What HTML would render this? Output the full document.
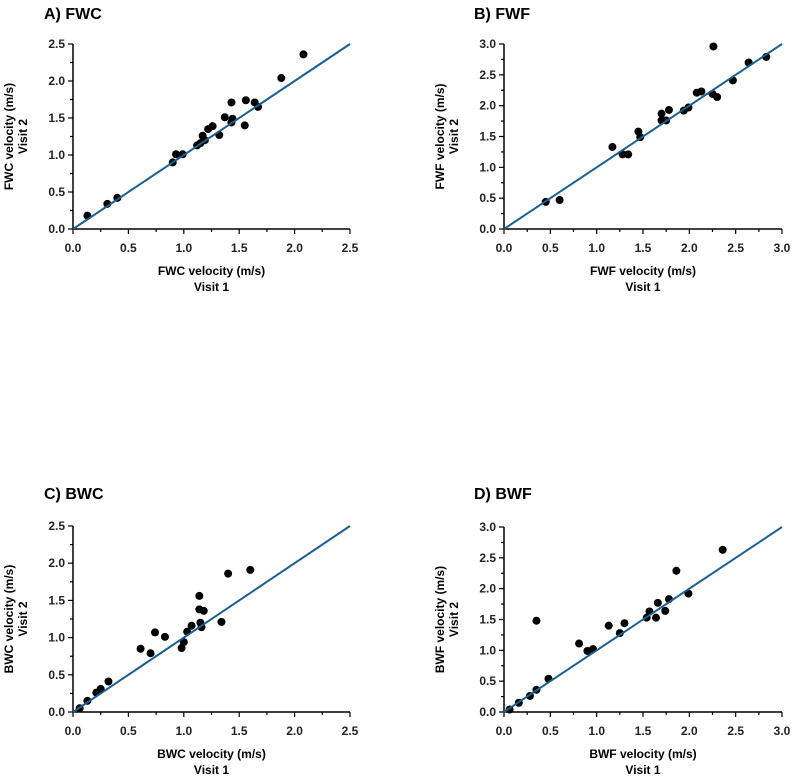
<!DOCTYPE html>
<html><head><meta charset="utf-8"><style>
html,body{margin:0;padding:0;background:#fff;}
svg{display:block;font-family:"Liberation Sans",sans-serif;}
.t{font-weight:bold;font-size:16px;}
.tick{font-size:12px;font-weight:bold;fill:#222;}
.lab{font-size:12px;font-weight:bold;}
</style></head><body>
<svg id="c" width="797" height="777" xmlns="http://www.w3.org/2000/svg"></svg>
<script>
const fwcX=[0.13,0.31,0.40,0.90,0.93,0.99,1.12,1.15,1.17,1.19,1.22,1.26,1.32,1.37,1.43,1.44,1.43,1.55,1.56,1.64,1.67,1.88,2.08];
const fwcY=[0.18,0.34,0.42,0.90,1.01,1.01,1.13,1.16,1.26,1.20,1.35,1.39,1.27,1.51,1.71,1.49,1.44,1.40,1.74,1.71,1.65,2.04,2.36];
const fwfX=[0.45,0.60,1.17,1.28,1.34,1.45,1.47,1.70,1.70,1.75,1.78,1.94,1.99,2.08,2.13,2.26,2.25,2.30,2.47,2.64,2.83];
const fwfY=[0.44,0.47,1.33,1.21,1.21,1.58,1.49,1.87,1.76,1.76,1.93,1.92,1.97,2.21,2.23,2.96,2.19,2.14,2.41,2.70,2.79];
const bwcX=[0.06,0.13,0.21,0.25,0.32,0.61,0.70,0.74,0.83,0.98,1.00,1.03,1.07,1.14,1.14,1.18,1.15,1.16,1.34,1.40,1.60];
const bwcY=[0.05,0.15,0.26,0.31,0.41,0.85,0.79,1.07,1.01,0.86,0.94,1.08,1.16,1.56,1.38,1.36,1.20,1.14,1.21,1.86,1.91];
const bwfX=[0.06,0.16,0.28,0.35,0.35,0.48,0.81,0.90,0.96,1.13,1.25,1.30,1.54,1.57,1.64,1.66,1.74,1.78,1.86,1.99,2.36];
const bwfY=[0.04,0.15,0.26,0.36,1.48,0.54,1.11,0.99,1.02,1.40,1.28,1.44,1.53,1.63,1.53,1.77,1.64,1.83,2.29,1.92,2.63];
const ticks25=["0.0","0.5","1.0","1.5","2.0","2.5"];
const ticks30=["0.0","0.5","1.0","1.5","2.0","2.5","3.0"];

const NS="http://www.w3.org/2000/svg";
const svg=document.getElementById('c');
function mk(tag,attrs,parent,txt){const e=document.createElementNS(NS,tag);for(const k in attrs)e.setAttribute(k,attrs[k]);if(txt!==undefined)e.textContent=txt;(parent||svg).appendChild(e);return e;}

function panel(id,title,name,xs,ys,max,ticks,x0,x1,y0,y1,tx,ty){
  const g=mk('g',{});
  
  
  const sx=v=>x0+(x1-x0)*v/max, sy=v=>y0-(y0-y1)*v/max;
  const t=mk('text',{x:tx,y:ty,class:'t'},g,title);
  
  
  const ax=mk('line',{x1:x0,y1:y0,x2:x1,y2:y0,stroke:'#000','stroke-width':1.5},g);
  
  
  const ay=mk('line',{x1:x0,y1:y0,x2:x0,y2:y1,stroke:'#000','stroke-width':1.5},g);
  
  
  const n=(ticks.length-1)*2;
  for(let i=0;i<=n;i++){
    const v=max*i/n, len=i%2?3:5;
    mk('line',{x1:sx(v),y1:y0,x2:sx(v),y2:y0+len,stroke:'#000','stroke-width':1.2},g);
    mk('line',{x1:x0,y1:sy(v),x2:x0-len,y2:sy(v),stroke:'#000','stroke-width':1.2},g);
  }
  ticks.forEach((l,i)=>{
    const v=max*i/(ticks.length-1);
    const a=mk('text',{x:sx(v),y:y0+23,class:'tick','text-anchor':'middle'},g,l);
    
    
    const b=mk('text',{x:x0-8,y:sy(v)+4,class:'tick','text-anchor':'end'},g,l);
    
    
  });
  const xc=(x0+x1)/2;
  const xl=mk('text',{x:xc,y:y0+46,class:'lab','text-anchor':'middle'},g,name+' velocity (m/s)');
  
  
  const xl2=mk('text',{x:xc,y:y0+62,class:'lab','text-anchor':'middle'},g,'Visit 1');
  
  
  const yc=(y0+y1)/2;
  const yl=mk('text',{x:0,y:0,class:'lab','text-anchor':'middle',transform:`translate(${x0-60},${yc}) rotate(-90)`},g,name+' velocity (m/s)');
  
  
  const yl2=mk('text',{x:0,y:0,class:'lab','text-anchor':'middle',transform:`translate(${x0-46},${yc}) rotate(-90)`},g,'Visit 2');
  
  
  xs.forEach((v,i)=>{
    const p=mk('circle',{cx:sx(v),cy:sy(ys[i]),r:4,fill:'#000'},g);
    
    
  });
  const id_=mk('line',{x1:sx(0),y1:sy(0),x2:sx(max),y2:sy(max),stroke:'#1c5f8e','stroke-width':2},g);
  
  
}
panel('a','A)  FWC','FWC',fwcX,fwcY,2.5,ticks25,73,350,229,44,44,19);
panel('b','B)  FWF','FWF',fwfX,fwfY,3,ticks30,504,782,229,44,474,19);
panel('c','C)  BWC','BWC',bwcX,bwcY,2.5,ticks25,73,350,712,526,44,499);
panel('d','D)  BWF','BWF',bwfX,bwfY,3,ticks30,504,782,712,527,474,499);
</script>
</body></html>
